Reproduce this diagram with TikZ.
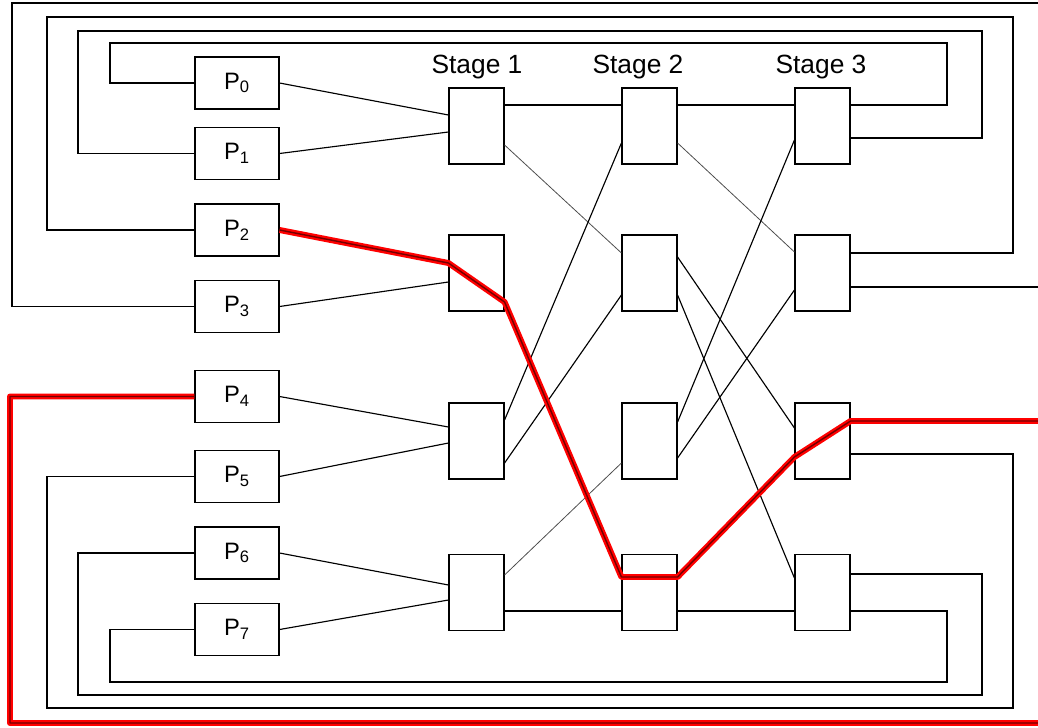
\documentclass[tikz,border=0pt]{standalone}
\usepackage{fontspec}
\setmainfont{Liberation Sans}
\begin{document}
\begin{tikzpicture}[x=0.02cm, y=-0.02cm, line width=0.65pt,
  proc/.style={draw, minimum width=1.68cm, minimum height=1.04cm, inner sep=0pt, font=\fontsize{13.5}{15}\selectfont},
  sw/.style={draw, minimum width=1.1cm, minimum height=1.52cm, inner sep=0pt},
  faint/.style={line width=0.45pt, black!70},
  hot/.style={draw=red, double=red!45!black, double distance=0.8pt, line width=1.3pt, line join=round}]
\clip (0,0) rectangle (1038,727);
\node[proc](p0) at (237,83){P\textsubscript{0}};
\node[proc](p1) at (237,153.5){P\textsubscript{1}};
\node[proc](p2) at (237,230){P\textsubscript{2}};
\node[proc](p3) at (237,306.5){P\textsubscript{3}};
\node[proc](p4) at (237,396.5){P\textsubscript{4}};
\node[proc](p5) at (237,476.5){P\textsubscript{5}};
\node[proc](p6) at (237,553){P\textsubscript{6}};
\node[proc](p7) at (237,629.5){P\textsubscript{7}};
\node[sw](s10) at (476.5,126){};
\node[sw](s11) at (476.5,273){};
\node[sw](s12) at (476.5,441){};
\node[sw](s13) at (476.5,592.5){};
\node[sw](s20) at (649.5,126){};
\node[sw](s21) at (649.5,273){};
\node[sw](s22) at (649.5,441){};
\node[sw](s23) at (649.5,592.5){};
\node[sw](s30) at (822.5,126){};
\node[sw](s31) at (822.5,273){};
\node[sw](s32) at (822.5,441){};
\node[sw](s33) at (822.5,592.5){};
\node[font=\fontsize{15}{17}\selectfont](st1) at (477,67){Stage 1};
\node[font=\fontsize{15}{17}\selectfont](st2) at (638,67){Stage 2};
\node[font=\fontsize{15}{17}\selectfont](st3) at (821,67){Stage 3};
% inputs to stage 1
\draw(p0.east)--(s10.west |- 0,115);
\draw(p1.east)--(s10.west |- 0,132);
\draw(p3.east)--(s11.west |- 0,282);
\draw(p4.east)--(s12.west |- 0,427);
\draw(p5.east)--(s12.west |- 0,443);
\draw(p6.east)--(s13.west |- 0,585);
\draw(p7.east)--(s13.west |- 0,600);
% stage 1 to stage 2
\draw(s10.east |- 0,105)--(s20.west |- 0,105);
\draw[faint](s10.east |- 0,145)--(s21.west |- 0,253);
\draw(s12.east |- 0,420)--(s20.west |- 0,143);
\draw(s12.east |- 0,463)--(s21.west |- 0,295);
\draw[faint](s13.east |- 0,575)--(s22.west |- 0,463);
\draw(s13.east |- 0,611)--(s23.west |- 0,611);
% stage 2 to stage 3
\draw(s20.east |- 0,105)--(s30.west |- 0,105);
\draw[faint](s20.east |- 0,143)--(s31.west |- 0,252);
\draw(s21.east |- 0,257)--(s32.west |- 0,428);
\draw(s21.east |- 0,295)--(s33.west |- 0,578);
\draw(s22.east |- 0,422)--(s30.west |- 0,140);
\draw(s22.east |- 0,458)--(s31.west |- 0,290);
\draw(s23.east |- 0,611)--(s33.west |- 0,611);
% outputs back to the processors
\draw(s30.east |- 0,105)-|(947,43)--(110,43)|-(p0.west);
\draw(s30.east |- 0,138)-|(982,31)--(78,31)|-(p1.west);
\draw(s31.east |- 0,253)-|(1013,17)--(47,17)|-(p2.west);
\draw(s31.east |- 0,287)-|(1041,3)--(12,3)|-(p3.west);
\draw(s32.east |- 0,454)-|(1013,708)--(47,708)|-(p5.west);
\draw(s33.east |- 0,574)-|(982,695)--(78,695)|-(p6.west);
\draw(s33.east |- 0,611)-|(947,682)--(110,682)|-(p7.west);
% path from P2 to P4
\draw[hot](p2.east)--(s11.west |- 0,263)--(s11.east |- 0,302)--(s23.west |- 0,577)--(s23.east |- 0,577)
  --(s32.west |- 0,457)--(s32.east |- 0,421)-|(1041,723)--(10,723)|-(p4.west);
\end{tikzpicture}
\end{document}
